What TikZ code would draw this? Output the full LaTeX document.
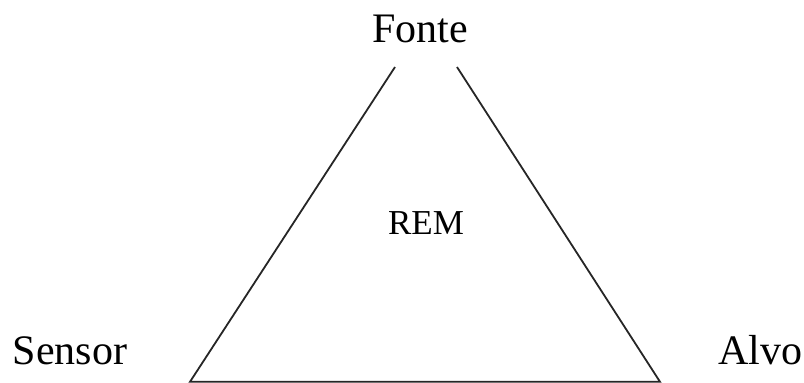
\documentclass[tikz,border=0pt]{standalone}
\usepackage{fontspec}
\setmainfont{Liberation Serif}
\begin{document}
\begin{tikzpicture}[x=1pt,y=1pt,
  lbl/.style={anchor=base,inner sep=0pt,font=\fontsize{42}{50}\selectfont},
  side/.style={line width=1.8pt,draw=black!85}]
\useasboundingbox (0,0) rectangle (804,383);
\coordinate (topL) at (395,316);
\coordinate (topR) at (457,316);
\coordinate (botL) at (190,1.2);
\coordinate (botR) at (660,1.2);
\node[lbl] (fonte) at (420,340) {Fonte};
\node[lbl] (sensor) at (70,18) {Sensor};
\node[lbl] (alvo) at (760,18) {Alvo};
\node[lbl,font=\fontsize{35}{42}\selectfont] (rem) at (426,148) {REM};
\draw[side] (topL) -- (botL) -- (botR) -- (topR);
\end{tikzpicture}
\end{document}
